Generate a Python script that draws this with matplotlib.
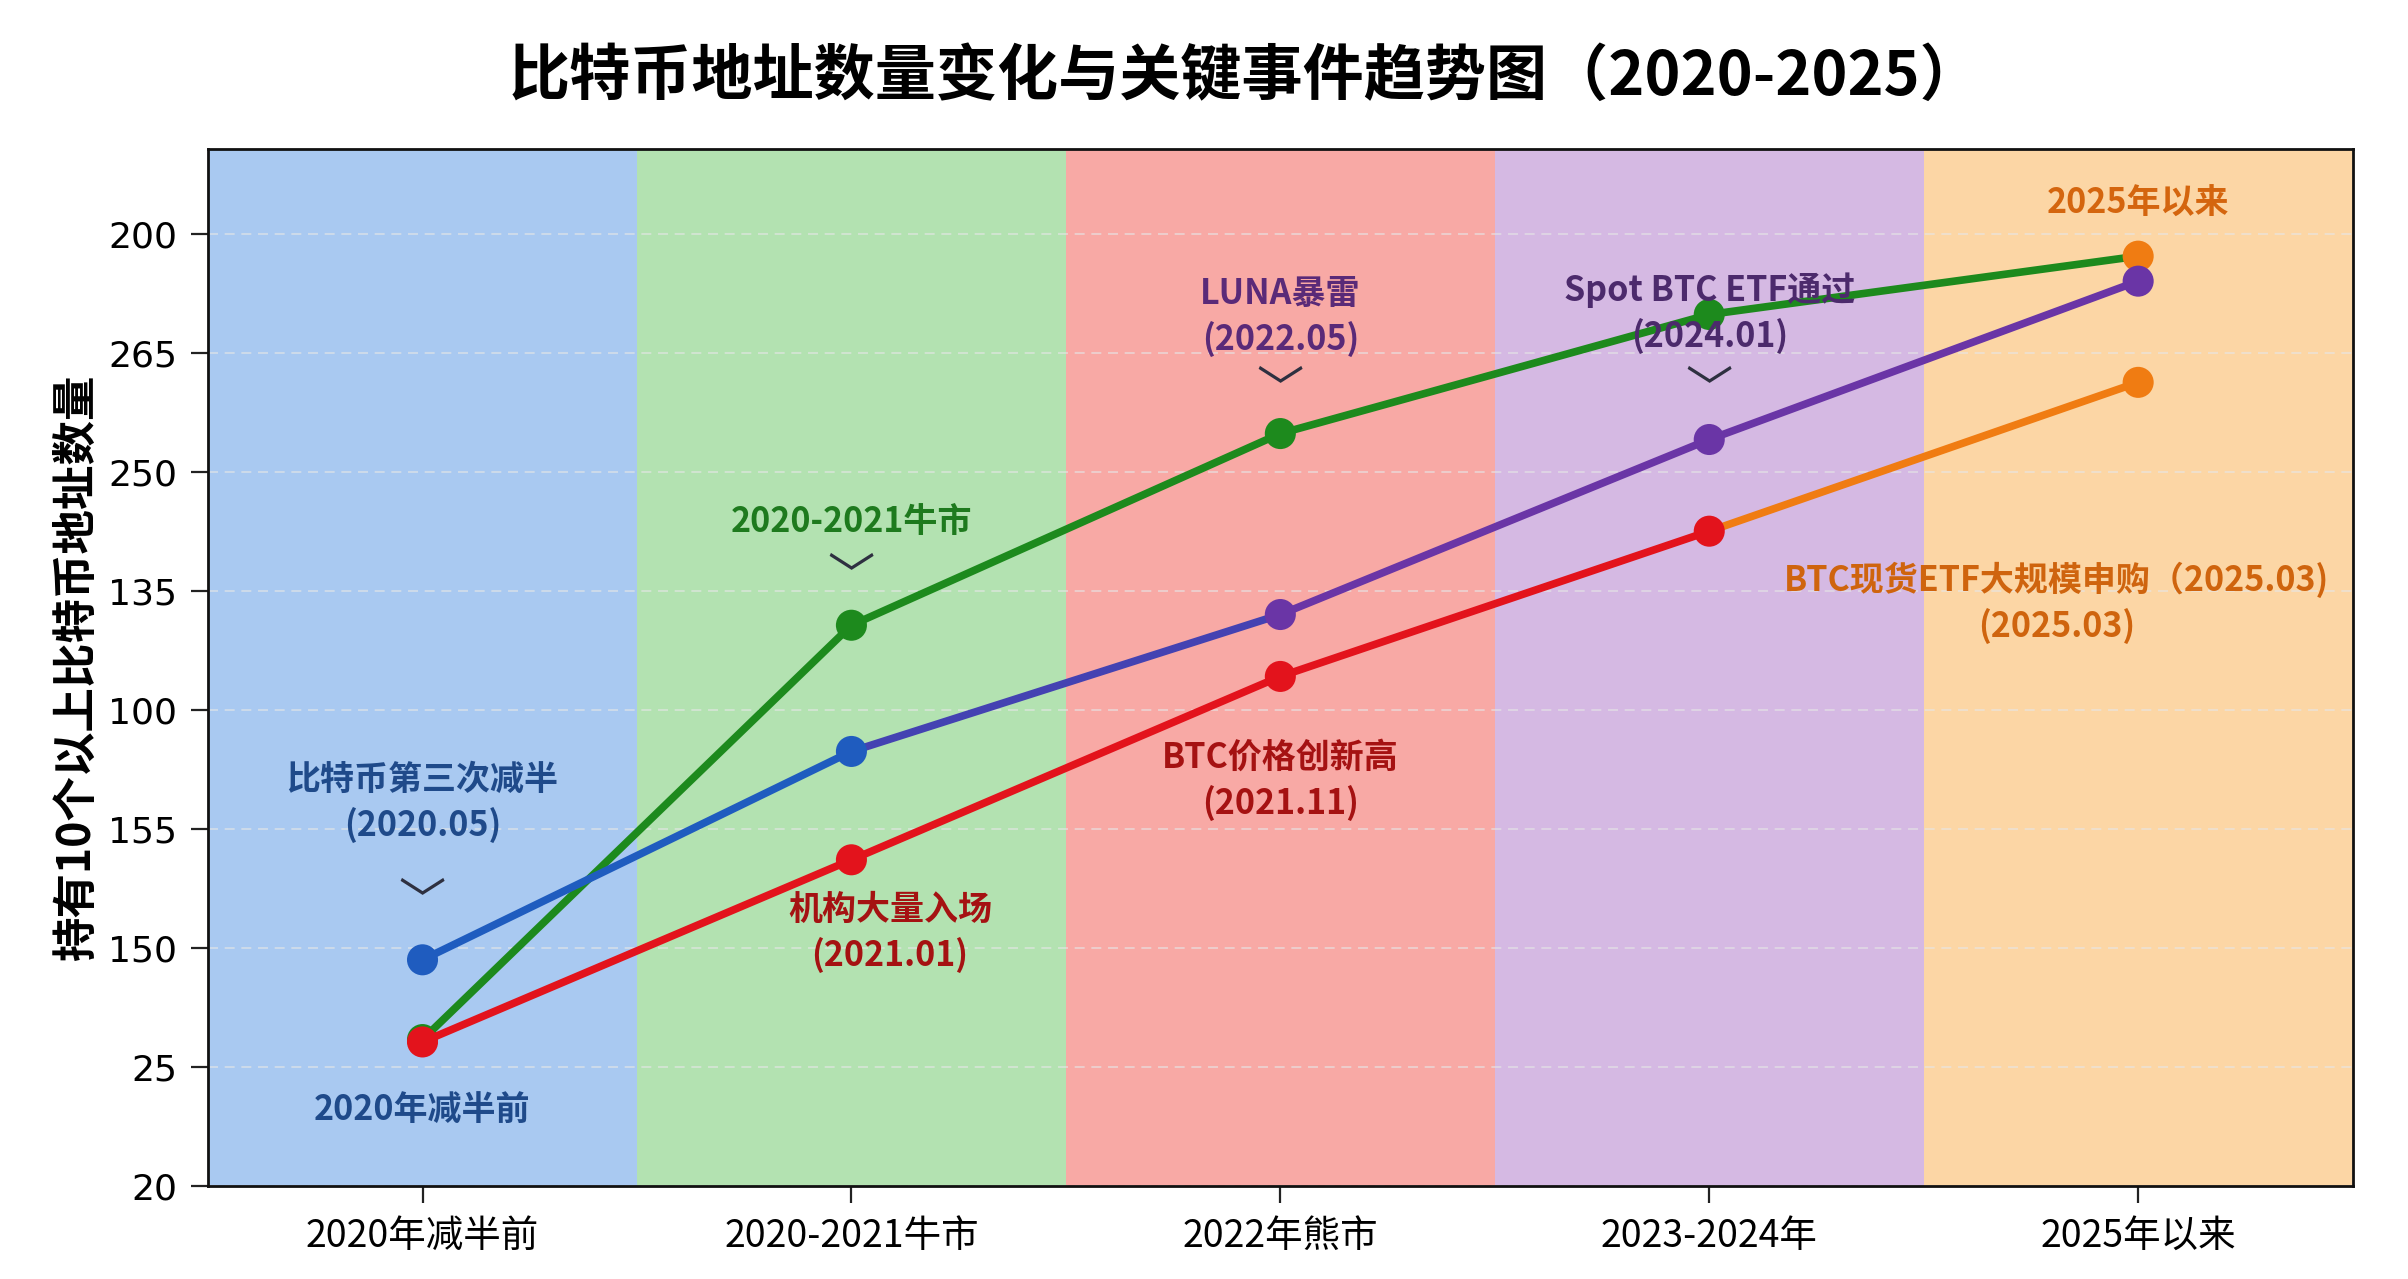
import numpy as np
import matplotlib
matplotlib.use("Agg")
import matplotlib.pyplot as plt

plt.rcParams['font.family'] = ['Noto Sans CJK SC', 'DejaVu Sans']

# categories / axis labels
categories = ['2020年减半前', '2020-2021牛市', '2022年熊市', '2023-2024年', '2025年以来']
ytick_labels = ['20', '25', '150', '155', '100', '135', '250', '265', '200']

# series values (in tick-position units)
green_vals = [1.23, 4.71, 6.32, 7.32, 7.81]
blue_vals = [1.90, 3.65, 4.80, 6.27, 7.60]
red_vals = [1.21, 2.74, 4.28, 5.50, 6.75]

GREEN = '#1d8a1d'
BLUE = '#1f5cbf'
PURPLE = '#6a35a6'
RED = '#e3131c'
ORANGE = '#f07c12'

band_colors = ['#a9c9f1', '#b3e2b1', '#f8a9a5', '#d5b9e3', '#fcd6a5']

fig = plt.figure(figsize=(24.08, 12.79), dpi=100)
fig.patch.set_facecolor('white')
ax = fig.add_axes([0.0864, 0.0727, 0.8906, 0.8108])

x = np.arange(len(categories))

# background bands, one per phase
for i, c in enumerate(band_colors):
    ax.axvspan(i - 0.5, i + 0.5, color=c, zorder=0, lw=0)

# faint dashed grid
for yy in range(len(ytick_labels)):
    ax.axhline(yy, color='#e6e6e6', lw=1.2, ls=(0, (6, 4)), alpha=0.7, zorder=1)


def draw_series(vals, seg_colors, marker_colors, z):
    for i in range(len(vals) - 1):
        ax.plot(x[i:i + 2], vals[i:i + 2], color=seg_colors[i], lw=5.5,
                solid_capstyle='round', zorder=z)
    ax.scatter(x, vals, s=500, c=marker_colors, zorder=z + 0.5, lw=0)


draw_series(green_vals, [GREEN] * 4, [GREEN] * 4 + [ORANGE], 3)
draw_series(blue_vals, [BLUE, '#4442b2', PURPLE, PURPLE],
            [BLUE, BLUE, PURPLE, PURPLE, PURPLE], 4)
draw_series(red_vals, [RED, RED, RED, ORANGE], [RED] * 4 + [ORANGE], 5)

# event annotations
notes = [
    ('比特币第三次减半\n(2020.05)', 0, 3.22, '#1f4a8a'),
    ('2020年减半前', 0, 0.64, '#1f4a8a'),
    ('2020-2021牛市', 1, 5.58, '#1e7a1e'),
    ('机构大量入场\n(2021.01)', 1.09, 2.13, '#a51212'),
    ('BTC价格创新高\n(2021.11)', 2, 3.41, '#a51212'),
    ('LUNA暴雷\n(2022.05)', 2, 7.30, '#5a2a78'),
    ('Spot BTC ETF通过\n(2024.01)', 3, 7.33, '#4c2a6c'),
    ('2025年以来', 4, 8.25, '#d4650e'),
    ('BTC现货ETF大规模申购（2025.03)\n(2025.03)', 3.81, 4.90, '#cf640e'),
]
for txt, tx, ty, col in notes:
    ax.text(tx, ty, txt, ha='center', va='center', color=col, fontsize=24.5,
            fontweight='bold', linespacing=1.35, zorder=6)

for cx, cy in [(0, 2.37), (1, 5.10), (2, 6.67), (3, 6.67)]:
    ax.text(cx, cy, '﹀', ha='center', va='center', color='#2e3040',
            fontsize=34, zorder=6)

ax.set_xlim(-0.5, 4.5)
ax.set_ylim(0, 8.71)
ax.set_xticks(x)
ax.set_xticklabels(categories, fontsize=27)
ax.set_yticks(range(len(ytick_labels)))
ax.set_yticklabels(ytick_labels, fontsize=26, family='DejaVu Sans')
ax.tick_params(axis='both', length=12, width=1.6, color='#222222', pad=10)
for sp in ax.spines.values():
    sp.set_linewidth(2)
    sp.set_color('#111111')

fig.text(0.032, 0.478, '持有10个以上比特币地址数量', rotation=90, ha='center',
         va='center', fontsize=32, fontweight='bold')
fig.text(0.517, 0.94, '比特币地址数量变化与关键事件趋势图（2020-2025）',
         ha='center', va='center', fontsize=44, fontweight='bold')

fig.savefig('out.png', dpi=100)
